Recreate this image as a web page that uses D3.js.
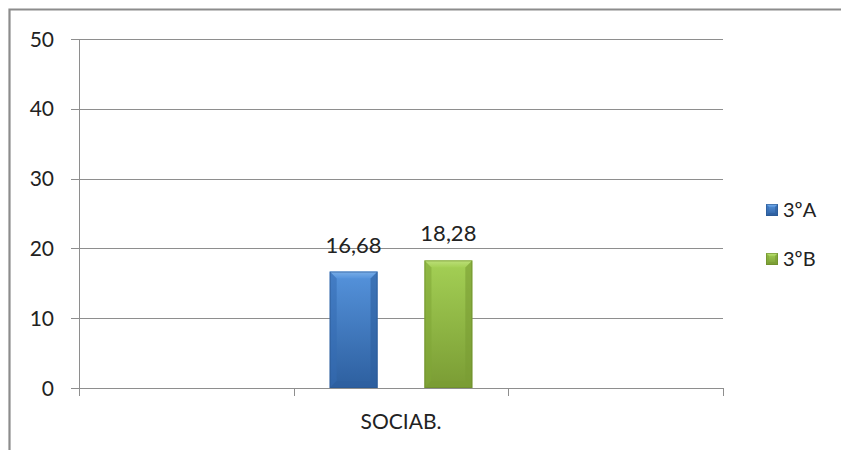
<!DOCTYPE html>
<html>
<head>
<meta charset="utf-8">
<script src="https://cdn.jsdelivr.net/npm/d3@7"></script>
<style>
  html, body { margin: 0; padding: 0; background: #fff; }
  svg { display: block; }
  text { font-family: Lato, "Open Sans", sans-serif; fill: #222; }
</style>
</head>
<body>
<svg id="chart" width="841" height="450"></svg>
<script>
// ---- data ----
const categories = ["", "SOCIAB.", ""];
const seriesNames = ["3ºA", "3ºB"];
const valuesA = [null, 16.68, null];
const valuesB = [null, 18.28, null];
const labelsA = ["", "16,68", ""];
const labelsB = ["", "18,28", ""];
const yTicks = [0, 10, 20, 30, 40, 50];

const svg = d3.select("#chart");
const W = 841, H = 450;
const plot = { left: 79, right: 723, top: 39, bottom: 388 };

// chart border
svg.append("path")
  .attr("d", `M9.5,${H} L9.5,9.5 L${W},9.5`)
  .attr("fill", "none").attr("stroke", "#8c8c8c").attr("stroke-width", 2.2);

const x = d3.scaleBand().domain(d3.range(categories.length)).range([plot.left, plot.right]).padding(0);
const x1 = d3.scaleBand().domain(seriesNames).range([0, x.bandwidth()]).paddingInner(0.495).paddingOuter(0.38);
const y = d3.scaleLinear().domain([0, 50]).range([plot.bottom, plot.top]);

// gridlines
const grid = svg.append("g");
grid.selectAll("line").data(yTicks).join("line")
  .attr("x1", plot.left - 8).attr("x2", plot.right)
  .attr("y1", d => Math.round(y(d)) + 0.5).attr("y2", d => Math.round(y(d)) + 0.5)
  .attr("stroke", "#8e8e8e").attr("stroke-width", 1);

// y axis line
svg.append("line")
  .attr("x1", plot.left + 0.5).attr("x2", plot.left + 0.5)
  .attr("y1", plot.top).attr("y2", plot.bottom + 1)
  .attr("stroke", "#8e8e8e");

// y tick labels
svg.append("g").selectAll("text").data(yTicks).join("text")
  .attr("x", 54).attr("y", d => y(d))
  .attr("dy", "0.36em").attr("text-anchor", "end")
  .attr("font-size", 21)
  .text(d => d);

// x axis ticks
const xTickPos = d3.range(categories.length + 1).map(i => i < categories.length ? x(i) : x(i - 1) + x.bandwidth());
svg.append("g").selectAll("line").data(xTickPos).join("line")
  .attr("x1", d => Math.round(d) + 0.5).attr("x2", d => Math.round(d) + 0.5)
  .attr("y1", plot.bottom).attr("y2", plot.bottom + 8)
  .attr("stroke", "#8e8e8e");

// x category labels
svg.append("g").selectAll("text").data(categories).join("text")
  .attr("x", (d, i) => x(i) + x.bandwidth() / 2)
  .attr("y", 429)
  .attr("text-anchor", "middle")
  .attr("font-size", 21)
  .text(d => d);

// gradients
const defs = svg.append("defs");
const palettes = {
  "3ºA": { light: "#5593dc", mid: "#3f79c4", dark: "#2d5f9f", edge: "#2a5690", top: "#79aee8", side: "#356cb2" },
  "3ºB": { light: "#a4d055", mid: "#8fb83f", dark: "#7a9c34", edge: "#6a8a2b", top: "#bde07a", side: "#80a537" }
};
seriesNames.forEach((s, k) => {
  const p = palettes[s];
  const g = defs.append("linearGradient").attr("id", "grad" + k).attr("x1", 0).attr("y1", 0).attr("x2", 0).attr("y2", 1);
  g.append("stop").attr("offset", "0%").attr("stop-color", p.light);
  g.append("stop").attr("offset", "100%").attr("stop-color", p.dark);
  const t = defs.append("linearGradient").attr("id", "top" + k).attr("x1", 0).attr("y1", 0).attr("x2", 0).attr("y2", 1);
  t.append("stop").attr("offset", "0%").attr("stop-color", p.top);
  t.append("stop").attr("offset", "100%").attr("stop-color", p.light);
});

function drawBar(g, x0, w, yTop, yBot, k, p) {
  const b = Math.min(7, w / 4);
  g.append("rect").attr("x", x0).attr("y", yTop).attr("width", w).attr("height", yBot - yTop)
    .attr("fill", `url(#grad${k})`);
  g.append("path").attr("d", `M${x0},${yTop} L${x0 + w},${yTop} L${x0 + w - b},${yTop + b} L${x0 + b},${yTop + b} Z`)
    .attr("fill", `url(#top${k})`);
  g.append("path").attr("d", `M${x0},${yTop} L${x0 + b},${yTop + b} L${x0 + b},${yBot - b} L${x0},${yBot} Z`)
    .attr("fill", p.side).attr("opacity", 0.55);
  g.append("path").attr("d", `M${x0 + w},${yTop} L${x0 + w - b},${yTop + b} L${x0 + w - b},${yBot - b} L${x0 + w},${yBot} Z`)
    .attr("fill", p.dark).attr("opacity", 0.6);
  g.append("path").attr("d", `M${x0},${yBot} L${x0 + b},${yBot - b} L${x0 + w - b},${yBot - b} L${x0 + w},${yBot} Z`)
    .attr("fill", p.dark).attr("opacity", 0.7);
  g.append("rect").attr("x", x0 + 0.5).attr("y", yTop + 0.5).attr("width", w - 1).attr("height", yBot - yTop - 1)
    .attr("fill", "none").attr("stroke", p.edge).attr("stroke-opacity", 0.6);
}

const seriesData = [valuesA, valuesB];
const seriesLabels = [labelsA, labelsB];
const bars = svg.append("g");
seriesNames.forEach((s, k) => {
  seriesData[k].forEach((v, i) => {
    if (v == null) return;
    const bx = x(i) + x1(s);
    drawBar(bars, bx, x1.bandwidth(), y(v), y(0), k, palettes[s]);
    bars.append("text")
      .attr("x", bx + x1.bandwidth() / 2)
      .attr("y", y(v) - 19)
      .attr("text-anchor", "middle")
      .attr("font-size", 22)
      .text(seriesLabels[k][i]);
  });
});

// legend
const legend = svg.append("g");
const legendY = [210, 259];
seriesNames.forEach((s, k) => {
  const g = legend.append("g");
  drawBar(g, 766, 12, legendY[k] - 6, legendY[k] + 6, k, palettes[s]);
  g.append("text").attr("x", 783).attr("y", legendY[k]).attr("dy", "0.36em")
    .attr("font-size", 20).text(s);
});
</script>
</body>
</html>
